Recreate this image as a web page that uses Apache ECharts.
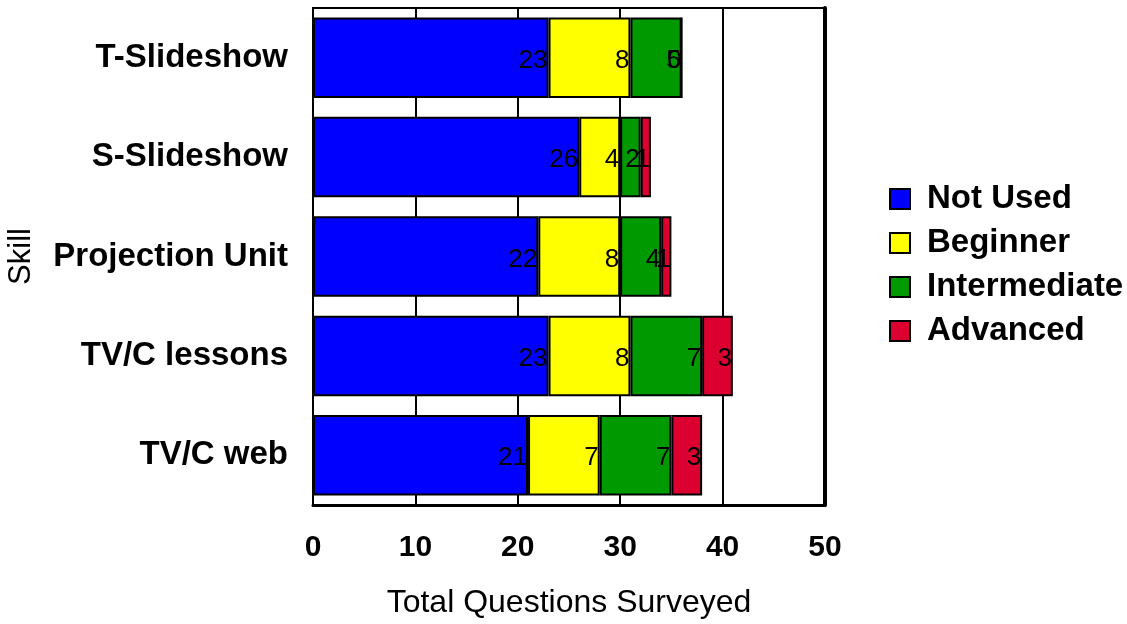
<!DOCTYPE html>
<html>
<head>
<meta charset="utf-8">
<script src="https://cdn.jsdelivr.net/npm/echarts@6/dist/echarts.min.js"></script>
<style>
html,body{margin:0;padding:0;background:#fff;}
#chart{width:1127px;height:624px;}
</style>
</head>
<body>
<div id="chart"></div>
<script>
const categories = ['T-Slideshow', 'S-Slideshow', 'Projection Unit', 'TV/C lessons', 'TV/C web'];
const notUsed = [23, 26, 22, 23, 21];
const beginner = [8, 4, 8, 8, 7];
const intermediate = [5, 2, 4, 7, 7];
const advanced = [0, 1, 1, 3, 3];
const xTicks = [0, 10, 20, 30, 40, 50];

const seriesNames = ['Not Used', 'Beginner', 'Intermediate', 'Advanced'];
const seriesData = [notUsed, beginner, intermediate, advanced];
const colors = ['#0000FF', '#FFFF00', '#009900', '#DC0030'];

const chart = echarts.init(document.getElementById('chart'));
const font = 'Liberation Sans, Arial, sans-serif';

const barSeries = seriesNames.map((name, i) => ({
  name: name,
  type: 'bar',
  stack: 'total',
  z: 10,
  barCategoryGap: '19%',
  data: seriesData[i],
  itemStyle: { color: colors[i], borderColor: '#000', borderWidth: 2 },
  label: {
    show: true,
    position: 'insideRight',
    distance: 1,
    offset: [0, 3],
    fontSize: 26,
    color: '#000',
    fontFamily: font,
    formatter: p => String(p.value)
  }
}));

chart.setOption({
  animation: false,
  textStyle: { fontFamily: font },
  grid: {
    left: 313, right: 302, top: 8, bottom: 116,
    show: true, borderColor: '#000', borderWidth: 2, backgroundColor: '#fff'
  },
  legend: {
    orient: 'vertical',
    left: 884, top: 174,
    itemWidth: 20, itemHeight: 20,
    itemGap: 4,
    icon: 'rect',
    data: seriesNames,
    itemStyle: { borderColor: '#000', borderWidth: 2 },
    textStyle: { fontSize: 33, fontWeight: 'bold', color: '#000', fontFamily: font, lineHeight: 36, padding: [4, 0, 0, 12] }
  },
  xAxis: [{
    type: 'value',
    min: xTicks[0], max: xTicks[xTicks.length - 1], interval: 10,
    name: 'Total Questions Surveyed',
    nameLocation: 'middle', nameGap: 82,
    nameTextStyle: { fontSize: 32, color: '#000', fontFamily: font },
    axisLine: { show: true, lineStyle: { color: '#000', width: 3 } },
    axisTick: { show: false },
    axisLabel: { fontSize: 30, fontWeight: 'bold', color: '#000', margin: 28, fontFamily: font },
    splitLine: { show: true, lineStyle: { color: '#000', width: 2 } }
  }],
  yAxis: [{
    type: 'category',
    data: categories,
    inverse: true,
    name: 'Skill',
    nameLocation: 'middle', nameGap: 276, nameRotate: 90,
    nameTextStyle: { fontSize: 31, color: '#000', fontFamily: font },
    axisLine: { show: true, lineStyle: { color: '#000', width: 2 } },
    axisTick: { show: false },
    axisLabel: { fontSize: 33, fontWeight: 'bold', color: '#000', margin: 25, fontFamily: font },
    splitLine: { show: false }
  }, {
    type: 'category',
    data: categories,
    inverse: true,
    position: 'right',
    axisLine: { show: true, lineStyle: { color: '#000', width: 4 } },
    axisTick: { show: false },
    axisLabel: { show: false },
    splitLine: { show: false }
  }],
  series: barSeries
});
</script>
</body>
</html>
